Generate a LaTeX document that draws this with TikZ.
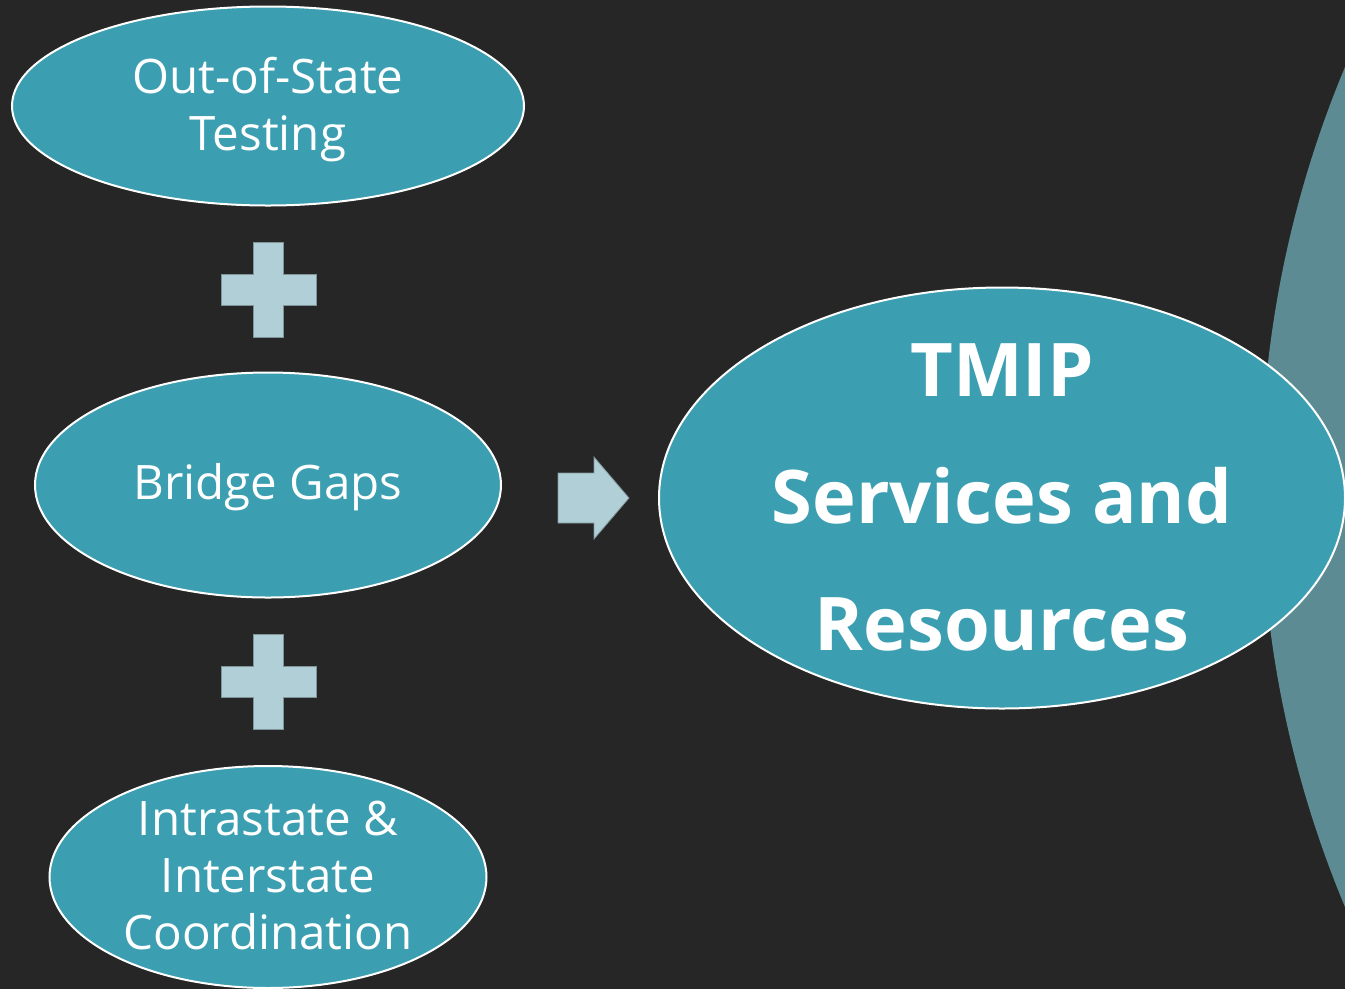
\documentclass[tikz,border=0pt]{standalone}
\usepackage{fontspec}
\setmainfont{Open Sans}
\usetikzlibrary{shapes.geometric}
\definecolor{bg}{HTML}{262626}
\definecolor{teal}{HTML}{3B9EB1}
\definecolor{plusc}{HTML}{B1CFD6}
\definecolor{plusedge}{HTML}{7E9498}
\definecolor{globe}{HTML}{5D8B94}
\tikzset{
  oval/.style={ellipse, fill=teal, draw=white, line width=2pt, inner sep=0pt},
  lbl/.style={text=white, align=center, inner sep=0pt},
  small/.style={font=\fontsize{47.5}{57}\selectfont},
  big/.style={font=\bfseries\fontsize{74}{127}\selectfont},
  plusshape/.style={fill=plusc, draw=plusedge, line width=0.8pt},
}
\begin{document}
\begin{tikzpicture}[x=1pt,y=-1pt]
\fill[bg] (0,0) rectangle (1345,989);
\useasboundingbox (0,0) rectangle (1345,989);
\begin{scope}
\clip (0,0) rectangle (1345,989);
% background globe
\fill[globe] (2349,487) circle (1088);
% ovals
\node[oval, minimum width=512pt, minimum height=199pt] (oos) at (268,106) {};
\node[oval, minimum width=466pt, minimum height=225pt] (bg) at (268,485) {};
\node[oval, minimum width=437pt, minimum height=222pt] (ic) at (268,877) {};
\node[oval, minimum width=686pt, minimum height=421pt] (tmip) at (1002,498) {};
\node[lbl, small] (oost) at (268,110) {Out-of-State\\Testing};
\node[lbl, small] (bgt) at (268,487) {Bridge Gaps};
\node[lbl, small] (ict) at (268,875) {Intrastate \&\\Interstate\\Coordination};
\node[lbl, big] (tmipt) at (1002,497) {TMIP\\Services and\\Resources};
% plus signs
\foreach \cy in {289,681}{
  \draw[plusshape] (253,\cy-47) -- (283,\cy-47) -- (283,\cy-15) -- (316,\cy-15) -- (316,\cy+16)
    -- (283,\cy+16) -- (283,\cy+48) -- (253,\cy+48) -- (253,\cy+16) -- (221,\cy+16)
    -- (221,\cy-15) -- (253,\cy-15) -- cycle;
}
% arrow
\draw[plusshape] (558,473) -- (594,473) -- (594,457) -- (629,498) -- (594,539) -- (594,523) -- (558,523) -- cycle;
\end{scope}
\end{tikzpicture}
\end{document}
